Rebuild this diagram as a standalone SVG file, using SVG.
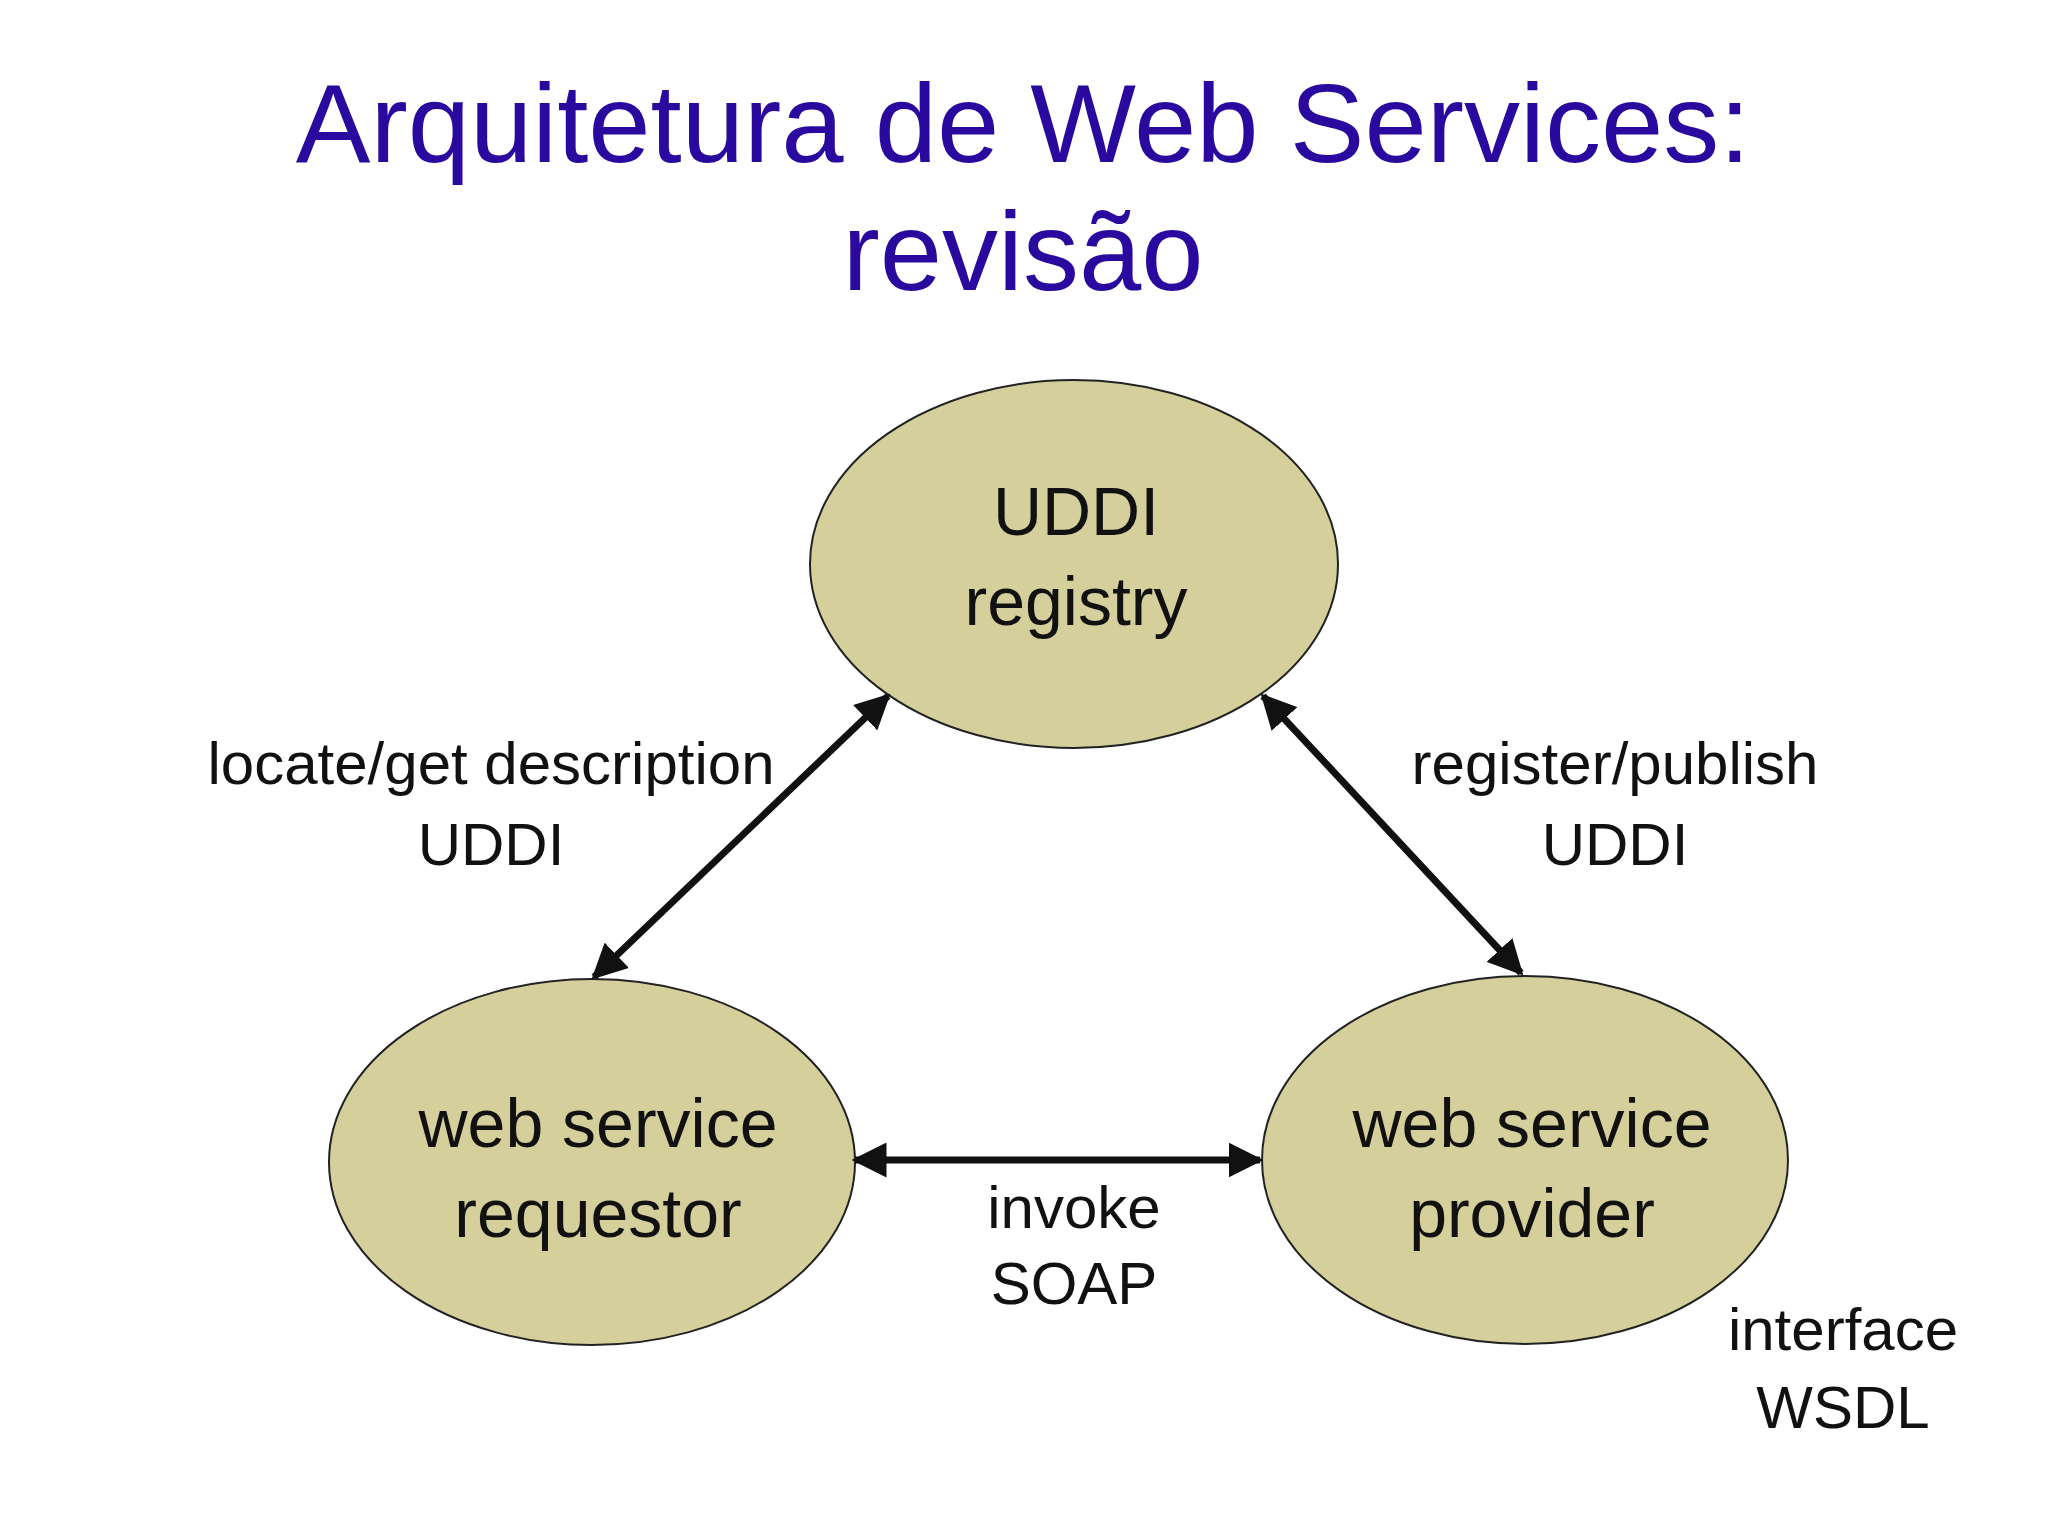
<svg xmlns="http://www.w3.org/2000/svg" width="2048" height="1536" viewBox="0 0 2048 1536">
<style>
.n{fill:#d4cf9b;stroke:#222;stroke-width:2}
.t{font-family:"Liberation Sans",Arial,sans-serif;font-size:68px;fill:#111;text-anchor:middle}
.l{font-family:"Liberation Sans",Arial,sans-serif;font-size:60px;fill:#111;text-anchor:middle}
.c{stroke:#111;stroke-width:7;fill:none;marker-start:url(#a);marker-end:url(#a)}
</style>
<defs><marker id="a" viewBox="0 0 10 10" refX="9" refY="5" markerWidth="5" markerHeight="5" orient="auto-start-reverse"><path d="M0,0L10,5L0,10z" fill="#111"/></marker></defs>
<rect width="2048" height="1536" fill="#fff"/>
<text x="1023" y="162" font-family="Liberation Sans,Arial,sans-serif" font-size="112" fill="#2a0a9e" text-anchor="middle">Arquitetura de Web Services:</text>
<text x="1023" y="290" font-family="Liberation Sans,Arial,sans-serif" font-size="112" fill="#2a0a9e" text-anchor="middle">revisão</text>
<g id="uddi"><ellipse class="n" cx="1074" cy="564" rx="264" ry="184"/><text class="t" x="1076" y="535">UDDI</text><text class="t" x="1076" y="625">registry</text></g>
<g id="requestor"><ellipse class="n" cx="592" cy="1162" rx="263" ry="183"/><text class="t" x="598" y="1147">web service</text><text class="t" x="598" y="1237">requestor</text></g>
<g id="provider"><ellipse class="n" cx="1525" cy="1160" rx="263" ry="184"/><text class="t" x="1532" y="1147">web service</text><text class="t" x="1532" y="1237">provider</text></g>
<g id="connectors">
<line class="c" x1="594" y1="977" x2="888" y2="696"/>
<line class="c" x1="1263" y1="696" x2="1521" y2="973"/>
<line class="c" x1="855" y1="1160" x2="1260" y2="1160"/>
</g>
<g id="labels">
<text class="l" x="491" y="784">locate/get description</text><text class="l" x="491" y="865">UDDI</text>
<text class="l" x="1615" y="784">register/publish</text><text class="l" x="1615" y="865">UDDI</text>
<text class="l" x="1074" y="1228">invoke</text><text class="l" x="1074" y="1304">SOAP</text>
<text class="l" x="1843" y="1350">interface</text><text class="l" x="1843" y="1428">WSDL</text>
</g>
</svg>
